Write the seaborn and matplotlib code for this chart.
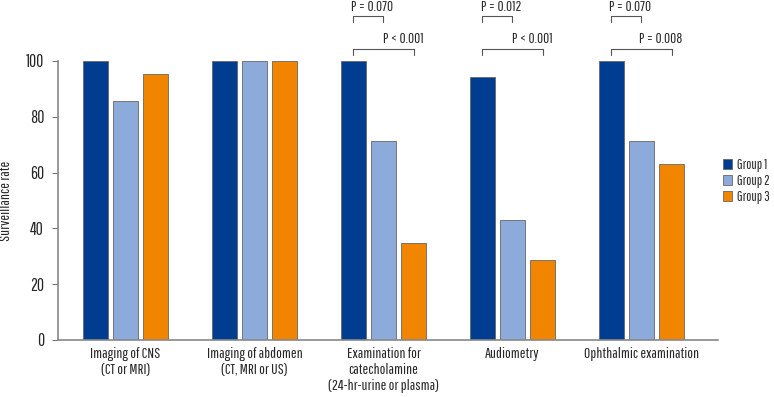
import matplotlib
matplotlib.use("Agg")
import matplotlib.pyplot as plt
import seaborn as sns
import pandas as pd

categories = ["Imaging of CNS\n(CT or MRI)", "Imaging of abdomen\n(CT, MRI or US)",
              "Examination for\ncatecholamine\n(24-hr-urine or plasma)", "Audiometry",
              "Ophthalmic examination"]
groups = ["Group 1", "Group 2", "Group 3"]
group1 = [100, 100, 100, 94.1, 100]
group2 = [85.7, 100, 71.4, 42.9, 71.4]
group3 = [95.2, 100, 34.8, 28.6, 63.0]
yticks = [0, 20, 40, 60, 80, 100]
# (category index, bar a, bar b, p value, operator)
pvals = [(2, 0, 1, "0.070", "="), (2, 0, 2, "0.001", "<"),
         (3, 0, 1, "0.012", "="), (3, 0, 2, "0.001", "<"),
         (4, 0, 1, "0.070", "="), (4, 0, 2, "0.008", "=")]

FONT = "Pathway Gothic One"
sns.set_style("white")
plt.rcParams["font.family"] = [FONT, "DejaVu Sans"]

rows = []
for i, c in enumerate(categories):
    for g, vals in zip(groups, [group1, group2, group3]):
        rows.append({"cat": c, "group": g, "value": vals[i]})
df = pd.DataFrame(rows)

colors = ["#003C8F", "#8CABDA", "#F28500"]
fig = plt.figure(figsize=(7.74, 3.97), dpi=100)
ax = fig.add_axes([58 / 774, 57 / 397, (718 - 58) / 774, (340 - 61) / 397])
sns.barplot(data=df, x="cat", y="value", hue="group", palette=colors, order=categories,
            hue_order=groups, width=0.7, gap=0.17, edgecolor="#666666", linewidth=0.6,
            saturation=1, ax=ax, legend=True)
ax.set_xlim(-0.523, 4.593)
ax.set_ylim(0, 100)
ax.set_yticks(yticks)
ax.set_xlabel("")
ax.set_ylabel("Surveillance rate", fontsize=11)
ax.yaxis.set_label_coords(-0.068, 0.5)
ax.tick_params(axis="y", length=4, width=0.8, color="#777777", labelsize=12.5, pad=6, left=True)
ax.tick_params(axis="x", length=0, labelsize=11, pad=5)
for lbl in ax.get_xticklabels():
    lbl.set_linespacing(1.2)
for s in ["top", "right"]:
    ax.spines[s].set_visible(False)
for s in ["left", "bottom"]:
    ax.spines[s].set_color("#888888")
    ax.spines[s].set_linewidth(1.2)

step = 0.7 / 3
for ci, a, b, lab, op in pvals:
    xa = ci + (a - 1) * step
    xb = ci + (b - 1) * step
    y = 116 if b == 1 else 104.3
    ax.plot([xa, xa, xb, xb], [y - 2.2, y, y, y - 2.2], color="#555555", lw=0.8, clip_on=False)
    ax.text((xa + xb) / 2 + (0.03 if b == 1 else 0.15), y + 1.0, f"P\u2009{op}\u2009{lab}",
            ha="center", va="bottom", fontsize=10.5, clip_on=False)

leg = ax.legend(loc="center left", bbox_to_anchor=(1.003, 0.57), borderaxespad=0, frameon=False,
                fontsize=10, handlelength=0.7, handleheight=0.7, handletextpad=0.35,
                labelspacing=0.15, borderpad=0.2)
fig.savefig("out.png", dpi=100)
